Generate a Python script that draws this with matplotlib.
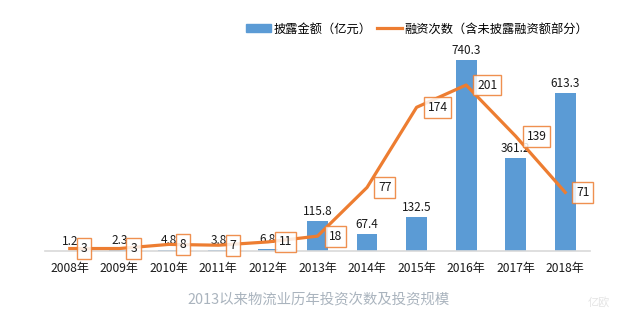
import matplotlib
matplotlib.use('Agg')
import matplotlib.pyplot as plt
from matplotlib.patches import Patch
from matplotlib.lines import Line2D

plt.rcParams['font.family'] = ['Noto Sans CJK SC', 'DejaVu Sans']

years = ['2008年', '2009年', '2010年', '2011年', '2012年', '2013年',
         '2014年', '2015年', '2016年', '2017年', '2018年']
amounts = [1.2, 2.3, 4.8, 3.8, 6.8, 115.8, 67.4, 132.5, 740.3, 361.2, 613.3]
counts = [3, 3, 8, 7, 11, 18, 77, 174, 201, 139, 71]

BAR_COLOR = '#5B9BD5'
LINE_COLOR = '#ED7D31'
W, H, DPI = 624, 324, 100


def main():
    fig = plt.figure(figsize=(W / DPI, H / DPI), dpi=DPI)
    ax = fig.add_axes([45 / W, 73 / H, 545 / W, 211 / H])
    x = list(range(len(years)))

    ax.bar(x, amounts, width=0.42, color=BAR_COLOR, zorder=2)
    ax.set_xlim(-0.5, len(years) - 0.5)
    ax.set_ylim(0, 818)
    for xi, v in zip(x, amounts):
        ax.annotate(f'{v:.1f}', (xi, v), xytext=(0, 3), textcoords='offset pixels',
                    ha='center', va='bottom', fontsize=8.5, color='#1a1a1a')

    for s in ['top', 'right', 'left']:
        ax.spines[s].set_visible(False)
    ax.spines['bottom'].set_color('#d9d9d9')
    ax.spines['bottom'].set_linewidth(1.2)
    ax.set_yticks([])
    ax.set_xticks(x)
    ax.set_xticklabels(years, fontsize=8.7, color='#1a1a1a')
    ax.tick_params(axis='x', length=0, pad=8)

    ax2 = ax.twinx()
    ax2.set_ylim(0, 255.5)
    ax2.plot(x, counts, color=LINE_COLOR, lw=2.3, zorder=3)
    ax2.set_yticks([])
    for s in ax2.spines.values():
        s.set_visible(False)
    for xi, v in zip(x, counts):
        ax2.annotate(str(v), (xi, v), xytext=(11, 0), textcoords='offset pixels',
                     ha='left', va='center', fontsize=8.7, color='#1a1a1a',
                     bbox=dict(boxstyle='square,pad=0.32', fc='white', ec=LINE_COLOR,
                               lw=1, alpha=0.85),
                     annotation_clip=False, zorder=4)

    handles = [Patch(color=BAR_COLOR), Line2D([0], [0], color=LINE_COLOR, lw=2.3)]
    fig.legend(handles, ['披露金额（亿元）', '融资次数（含未披露融资额部分）'],
               loc='center right', bbox_to_anchor=(594 / W, 1 - 29 / H), ncol=2,
               frameon=False, fontsize=8.8, handlelength=2.0, handleheight=0.6,
               handletextpad=0.2, columnspacing=0.5, borderpad=0)

    fig.text(318 / W, 1 - 300 / H, '2013以来物流业历年投资次数及投资规模',
             ha='center', va='center', fontsize=10.4, color='#aab4be')
    fig.text(610 / W, 1 - 302 / H, '亿欧', ha='right', va='center',
             fontsize=8, color='#e4e4e4')

    fig.savefig('out.png', dpi=DPI)


if __name__ == '__main__':
    main()
